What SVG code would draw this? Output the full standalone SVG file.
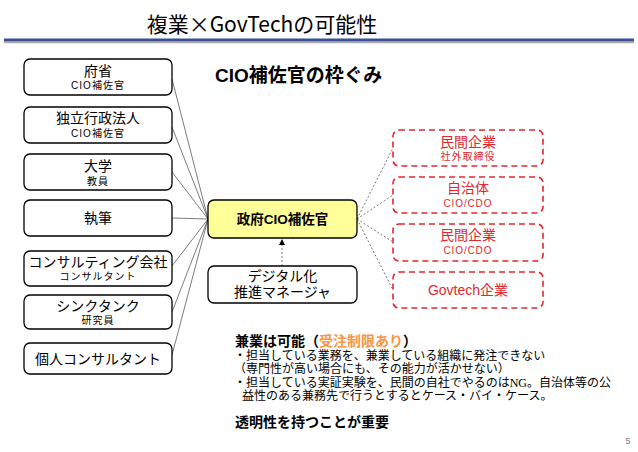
<svg xmlns="http://www.w3.org/2000/svg" width="638" height="452" viewBox="0 0 638 452">
<defs>
<style>
text{font-family:"Liberation Sans","Noto Sans CJK JP",sans-serif;}
.box{fill:#fff;stroke:#000;stroke-width:1.3;}
.cbox{fill:#FFFF99;stroke:#000;stroke-width:1.3;}
.rbox{fill:#fff;stroke:#E0282E;stroke-width:1.6;stroke-dasharray:6 4;}
.main{font-size:14px;text-anchor:middle;fill:#000;}
.sub{font-size:10px;text-anchor:middle;fill:#000;letter-spacing:1px;}
.rmain{font-size:14px;text-anchor:middle;fill:#E0282E;}
.rsub{font-size:10px;text-anchor:middle;fill:#E0282E;letter-spacing:1px;}
.ln{stroke:#444;stroke-width:0.7;fill:none;}
.dl{stroke:#555;stroke-width:0.8;stroke-dasharray:2 2;fill:none;}
.body{font-size:12px;fill:#000;}
.bold{font-size:14px;font-weight:bold;fill:#000;}
</style>
<marker id="ah" markerWidth="6" markerHeight="6" refX="5" refY="3" orient="auto" markerUnits="userSpaceOnUse">
<path d="M0,0 L6,3 L0,6 z" fill="#000"/>
</marker>
</defs>
<rect width="638" height="452" fill="#fff"/>
<text x="262" y="32" font-size="21" text-anchor="middle" fill="#000" style="font-family:'Noto Sans CJK JP',sans-serif">複業×GovTechの可能性</text>
<line x1="4" y1="42.5" x2="634" y2="42.5" stroke="#aaa" stroke-width="1.5"/>
<line x1="4" y1="40" x2="634" y2="40" stroke="#3A4E95" stroke-width="3"/>
<text x="215" y="82" font-size="19" font-weight="bold" fill="#000">CIO補佐官の枠ぐみ</text>
<g id="connectors">
<line class="ln" x1="172" y1="79" x2="208" y2="219"/>
<line class="ln" x1="172" y1="127" x2="208" y2="219"/>
<line class="ln" x1="172" y1="172" x2="208" y2="219"/>
<line class="ln" x1="172" y1="218" x2="208" y2="219"/>
<line class="ln" x1="172" y1="266" x2="208" y2="219"/>
<line class="ln" x1="172" y1="312" x2="208" y2="219"/>
<line class="ln" x1="172" y1="355" x2="208" y2="219"/>
<line class="dl" x1="357" y1="219" x2="393" y2="148"/>
<line class="dl" x1="357" y1="219" x2="393" y2="195"/>
<line class="dl" x1="357" y1="219" x2="393" y2="242"/>
<line class="dl" x1="357" y1="219" x2="393" y2="290"/>
<line class="dl" x1="282" y1="266" x2="282" y2="240" stroke="#000" marker-end="url(#ah)"/>
</g>
<g id="n1"><rect class="box" x="24" y="59" width="148" height="36" rx="6"/><text class="main" x="98" y="76">府省</text><text class="sub" x="98" y="89" textLength="54">CIO補佐官</text></g>
<g id="n2"><rect class="box" x="24" y="107" width="148" height="36" rx="6"/><text class="main" x="98" y="123" font-size="14.5">独立行政法人</text><text class="sub" x="98" y="137" textLength="54">CIO補佐官</text></g>
<g id="n3"><rect class="box" x="24" y="154" width="148" height="36" rx="6"/><text class="main" x="98" y="171">大学</text><text class="sub" x="98" y="185">教員</text></g>
<g id="n4"><rect class="box" x="24" y="200" width="148" height="36" rx="6"/><text class="main" x="98" y="223">執筆</text></g>
<g id="n5"><rect class="box" x="24" y="251" width="148" height="35" rx="6"/><text class="main" x="98" y="267">コンサルティング会社</text><text class="sub" x="98" y="280" letter-spacing="0">コンサルタント</text></g>
<g id="n6"><rect class="box" x="24" y="295" width="148" height="34" rx="6"/><text class="main" x="98" y="311">シンクタンク</text><text class="sub" x="98" y="324">研究員</text></g>
<g id="n7"><rect class="box" x="24" y="343" width="148" height="31" rx="6"/><text class="main" x="98" y="364">個人コンサルタント</text></g>
<g id="center"><rect class="cbox" x="208" y="200" width="149" height="38" rx="6"/><text x="282.5" y="224" font-size="13.5" font-weight="bold" text-anchor="middle" fill="#000">政府CIO補佐官</text></g>
<g id="digital"><rect class="box" x="208" y="266" width="149" height="37" rx="6"/><text class="main" x="282.5" y="281">デジタル化</text><text class="main" x="282.5" y="297">推進マネージャ</text></g>
<g id="r1"><rect class="rbox" x="393" y="130" width="150" height="36" rx="6"/><text class="rmain" x="468" y="147">民間企業</text><text class="rsub" x="468" y="160">社外取締役</text></g>
<g id="r2"><rect class="rbox" x="393" y="177" width="150" height="36" rx="6"/><text class="rmain" x="468" y="193">自治体</text><text class="rsub" x="468" y="207" textLength="49">CIO/CDO</text></g>
<g id="r3"><rect class="rbox" x="393" y="224" width="150" height="37" rx="6"/><text class="rmain" x="468" y="240">民間企業</text><text class="rsub" x="468" y="254" textLength="49">CIO/CDO</text></g>
<g id="r4"><rect class="rbox" x="393" y="272" width="150" height="36" rx="6"/><text class="rmain" x="468" y="295">Govtech企業</text></g>
<text class="bold" x="235" y="346">兼業は可能（<tspan fill="#F79646">受注制限あり</tspan>）</text>
<text class="body" x="234" y="360">・担当している業務を、兼業している組織に発注できない</text>
<text class="body" x="234" y="373">（専門性が高い場合にも、その能力が活かせない）</text>
<text class="body" x="234" y="387">・担当している実証実験を、民間の自社でやるのは<tspan style="font-family:'Liberation Serif',serif">NG</tspan>。自治体等の公</text>
<text class="body" x="242" y="400">益性のある兼務先で行うとするとケース・バイ・ケース。</text>
<text class="bold" x="235" y="427">透明性を持つことが重要</text>
<text x="628" y="444" font-size="9" fill="#777" text-anchor="middle">5</text>
</svg>
